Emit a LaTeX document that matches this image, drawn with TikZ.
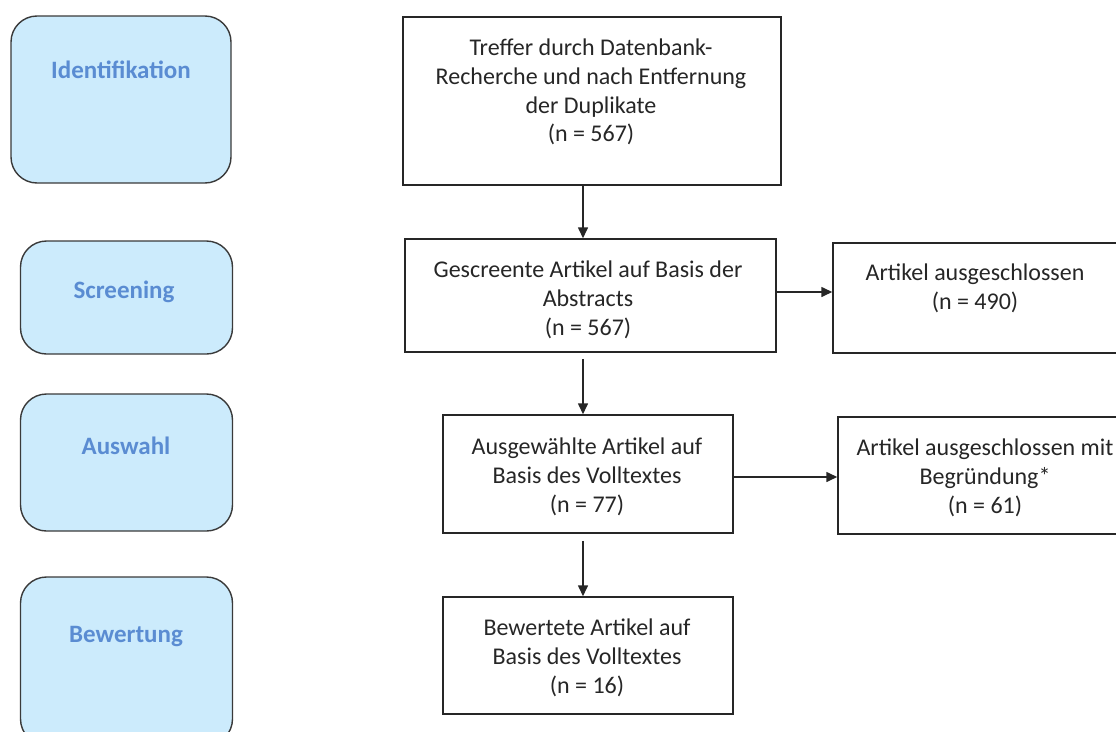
\documentclass[tikz,border=0pt]{standalone}
\usepackage{fontspec}
\setmainfont{Carlito}
\usetikzlibrary{arrows.meta, positioning}
\definecolor{phasefill}{HTML}{CCEBFC}
\definecolor{phaseblue}{HTML}{5A8CD2}
\definecolor{phaseline}{HTML}{3A3A3A}

\begin{document}
\begin{tikzpicture}[
		x=1pt, y=-1pt,
		phase/.style={draw=phaseline, line width=1.4pt, fill=phasefill, rounded corners=26pt, inner sep=0pt, minimum width=212pt},
		phaselbl/.style={anchor=base, text=phaseblue, font=\fontsize{25}{30}\selectfont\bfseries},
		box/.style={draw=black!85, line width=1.5pt, inner sep=0pt},
		txt/.style={align=center, text=black!85, font=\fontsize{24}{28.7}\selectfont},
		arr/.style={draw=black!85, line width=1.6pt, -{Triangle[length=11pt, width=10pt]}}
		]
		\useasboundingbox (0,0) rectangle (1116,731);
		
		% Phases
		\node[phase, minimum width=220pt, minimum height=167pt] (ident) at (121,99.5) {};
		\node[phase, minimum height=113pt] (screenph) at (126.5,297.5) {};
		\node[phase, minimum height=137pt] (auswahlph) at (126.5,462.5) {};
		\node[phase, minimum height=168pt] (bewertph) at (126.5,661) {};
		
		\node[phaselbl] (identlbl) at (121,78) {Identifikation};
		\node[phaselbl] (screenlbl) at (124,298) {Screening};
		\node[phaselbl] (auswahllbl) at (126,454) {Auswahl};
		\node[phaselbl] (bewertlbl) at (126,642) {Bewertung};
		
		% Flow
		\node[box, minimum width=378pt, minimum height=168pt] (treffer) at (592,101) {};
		\node[box, minimum width=371pt, minimum height=113pt] (screen) at (590.5,295.5) {};
		\node[box, minimum width=290pt, minimum height=118pt] (auswahl) at (588,474) {};
		\node[box, minimum width=290pt, minimum height=117pt] (bewertet) at (588,655.5) {};
		\node[box, minimum width=284pt, minimum height=110pt] (excl1) at (975,298) {};
		\node[box, minimum width=290pt, minimum height=117pt] (excl2) at (983,475.5) {};
		
		\node[txt] (treffertxt) at (591,92) {Treffer durch Datenbank-\\Recherche und nach Entfernung\\der Duplikate\\(n = 567)};
		\node[txt] (screentxt) at (588,300) {Gescreente Artikel auf Basis der\\Abstracts\\(n = 567)};
		\node[txt] (auswahltxt) at (587,477) {Ausgewählte Artikel auf\\Basis des Volltextes\\(n = 77)};
		\node[txt] (bewertettxt) at (587,658) {Bewertete Artikel auf\\Basis des Volltextes\\(n = 16)};
		\node[txt] (excl1txt) at (975,288.5) {Artikel ausgeschlossen\\(n = 490)};
		\node[txt] (excl2txt) at (985,478) {Artikel ausgeschlossen mit\\Begründung*\\(n = 61)};
		
		% Arrows
		\coordinate (axis) at (583,0);
		\foreach \i/\j/\s in {treffer/screen/0pt, screen/auswahl/6pt, auswahl/bewertet/7pt}
		\draw[arr, shorten <=\s] (\i.south -| axis) -- (\j.north -| axis);
		\foreach \i/\j/\d in {screen/excl1/3.5pt, auswahl/excl2/-3pt}
		\draw[arr] ([yshift=\d]\i.east) -- ([yshift=\d]\i.east -| \j.west);
		
	\end{tikzpicture}
\end{document}
